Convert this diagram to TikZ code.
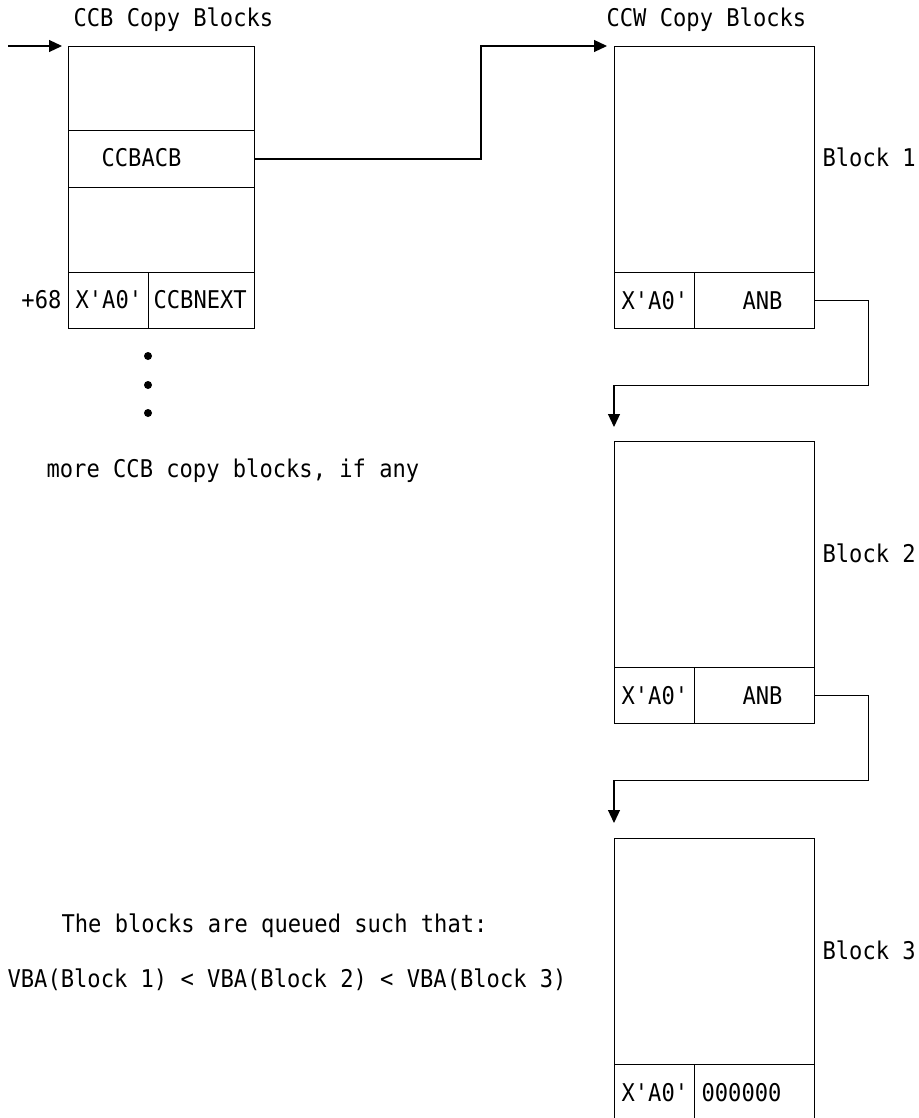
\documentclass[tikz,border=0pt]{standalone}
\usepackage{fontspec}
\setmonofont[FakeStretch=0.906]{DejaVu Sans Mono}
\usetikzlibrary{arrows.meta}
\begin{document}
\begin{tikzpicture}[x=1pt,y=-1pt,line width=1.2pt,
  font=\ttfamily\fontsize{24.4}{28}\selectfont,
  cell/.style={draw,inner sep=0pt,anchor=north west},
  txt/.style={inner sep=0pt,anchor=base west},
  link/.style={-{Triangle[length=13pt,width=12pt]}}]
  \useasboundingbox (0,0) rectangle (918,1118);
  % CCB copy block
  \node[txt] (ccbtitle) at (73,27) {CCB Copy Blocks};
  \node[cell,minimum width=186pt,minimum height=84pt] (ccbtop) at (68,46) {};
  \node[cell,minimum width=186pt,minimum height=57pt] (ccbacb) at (68,130) {};
  \node[cell,minimum width=186pt,minimum height=85pt] (ccbmid) at (68,187) {};
  \node[cell,minimum width=80pt,minimum height=56pt] (ccbflag) at (68,272) {};
  \node[cell,minimum width=106pt,minimum height=56pt] (ccbnext) at (148,272) {};
  \node[txt] at (101,167) {CCBACB};
  \node[txt,anchor=base east] at (62,308) {+68};
  \node[txt] at (75,308) {X'A0'};
  \node[txt] at (153,308) {CCBNEXT};
  \coordinate (entry) at (8,46);
  \draw[link] (entry) -- ([xshift=-6pt]ccbtop.north west);
  \foreach \y in {356,385,413}
    \fill (148,\y) circle (4pt);
  \node[txt] at (46,477) {more CCB copy blocks, if any};
  % CCW copy blocks
  \node[txt] (ccwtitle) at (606,27) {CCW Copy Blocks};
  \foreach \n/\y/\ptr/\px in {1/46/ANB/742,2/441/ANB/742,3/838/000000/701}{
    \node[cell,minimum width=200pt,minimum height=226pt] (blk\n) at (614,\y) {};
    \node[cell,minimum width=80pt,minimum height=56pt] (flag\n) at (614,\y+226) {};
    \node[cell,minimum width=120pt,minimum height=56pt] (ptr\n) at (694,\y+226) {};
    \node[txt] at (621,\y+263) {X'A0'};
    \node[txt] at (\px,\y+263) {\ptr};
    \node[txt] at (822,\y+121) {Block \n};
  }
  \draw[link] (ccbacb.east) -| ([xshift=-133pt]blk1.north west)
    -- ([xshift=-7pt]blk1.north west);
  \draw[link] (ptr1.east) -- ++(53,0) -- ++(0,85) -| ([yshift=14pt]blk2.north west);
  \draw[link] (ptr2.east) -- ++(53,0) -- ++(0,85) -| ([yshift=15pt]blk3.north west);
  % note
  \node[txt] at (61,932) {The blocks are queued such that:};
  \node[txt] at (7,987) {VBA(Block 1) < VBA(Block 2) < VBA(Block 3)};
\end{tikzpicture}
\end{document}
